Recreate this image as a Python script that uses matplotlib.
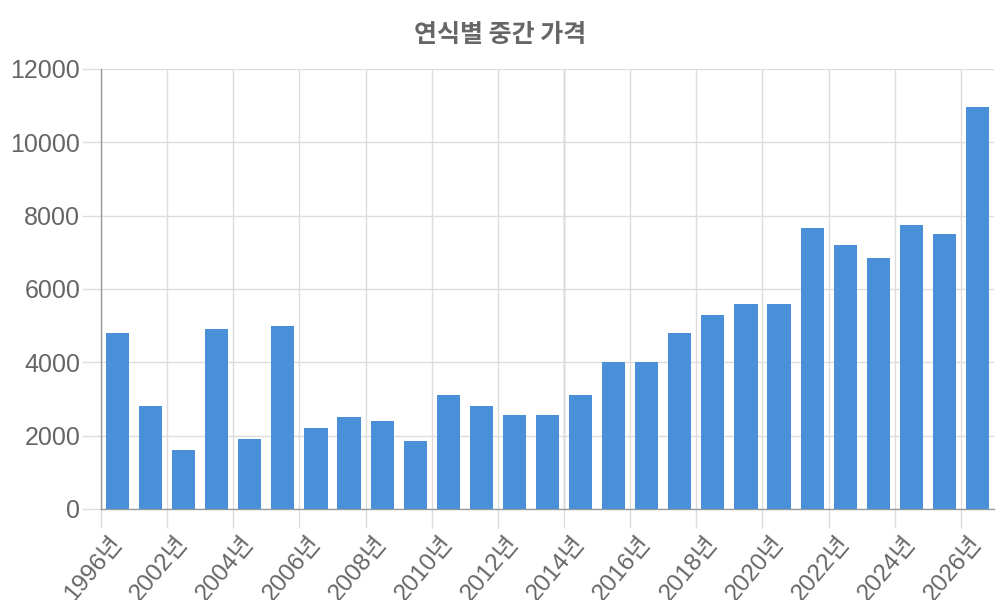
import matplotlib
matplotlib.use("Agg")
import matplotlib.pyplot as plt
import matplotlib.transforms as mtrans
import numpy as np

plt.rcParams['font.family'] = ['Liberation Sans', 'Noto Sans CJK KR', 'DejaVu Sans']

title = "연식별 중간 가격"
years = [1996] + list(range(2001, 2027))
values = [4800, 2800, 1600, 4900, 1900, 5000, 2200, 2500, 2400, 1850,
          3100, 2800, 2550, 2550, 3100, 4000, 4000, 4800, 5300, 5600,
          5600, 7650, 7200, 6850, 7750, 7500, 10950]
y_ticks = [0, 2000, 4000, 6000, 8000, 10000, 12000]

bar_color = "#4a90d9"
text_color = "#666666"
grid_color = "#dddddd"
axis_color = "#999999"

fig = plt.figure(figsize=(10, 6), dpi=100)
ax = fig.add_axes([0.101, 0.1517, 0.893, 0.7333])

x = np.arange(len(years))
ax.bar(x, values, width=0.7, color=bar_color, zorder=3)

ax.set_xlim(-0.5, len(years) - 0.5)
ax.set_ylim(0, 12000)
ax.set_yticks(y_ticks)
ax.set_yticklabels([str(v) for v in y_ticks], fontsize=18, color=text_color)

tick_idx = list(range(0, len(years), 2))
ax.set_xticks([i - 0.5 for i in tick_idx])
ax.set_xticklabels([])

ax.grid(True, color=grid_color, linewidth=1, zorder=0)
ax.tick_params(axis='both', color=grid_color, length=14, width=1)
ax.tick_params(axis='y', pad=1)

# rotated category labels anchored just below each tick
base = mtrans.blended_transform_factory(ax.transData, ax.transAxes)
offset = mtrans.ScaledTranslation(0.17, -0.30, fig.dpi_scale_trans)
for i in tick_idx:
    ax.text(i - 0.5, 0, f"{years[i]}년", transform=base + offset,
            fontsize=17.5, color=text_color, rotation=50, ha='right', va='center',
            rotation_mode='anchor', family=['Liberation Sans', 'Noto Sans CJK KR'],
            clip_on=False)

# darker vertical line at 2014 boundary
ax.axvline(14 - 0.5, color="#aaaaaa", linewidth=1, zorder=1)

for side in ['top', 'right']:
    ax.spines[side].set_visible(False)
for side in ['left', 'bottom']:
    ax.spines[side].set_color(axis_color)
    ax.spines[side].set_linewidth(1)

fig.text(0.5, 1 - 35 / 600, title, ha='center', va='center', fontsize=18,
         fontweight='bold', color=text_color, family=['Noto Sans CJK KR', 'DejaVu Sans'])

fig.savefig("out.png", dpi=100)
